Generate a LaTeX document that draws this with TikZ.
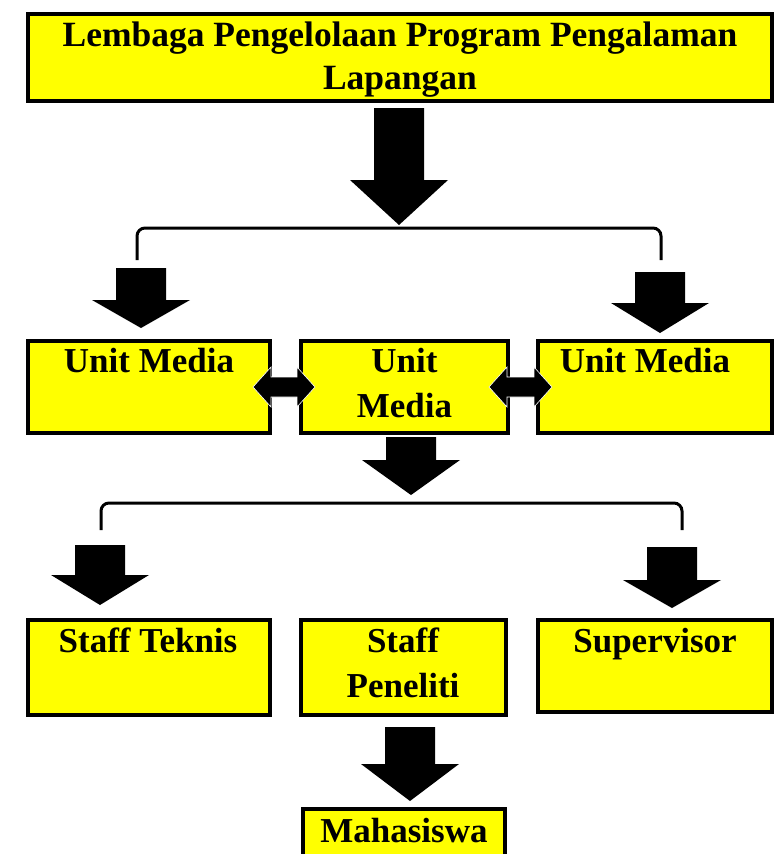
\documentclass[tikz,border=0pt]{standalone}
\usepackage{fontspec}
\setmainfont{Liberation Serif}
\definecolor{boxyellow}{RGB}{255,255,0}
\tikzset{
  unitbox/.style={draw=black, fill=boxyellow, line width=4pt, inner sep=0pt},
  unittext/.style={font=\fontsize{35}{45}\selectfont\bfseries, align=center, inner sep=0pt},
  bracket/.style={line width=3pt, rounded corners=8pt},
}
% block arrow pointing down: centre x, top, neck, tip
\newcommand{\downblock}[4]{%
  \fill (#1-25,#2) -- (#1+25,#2) -- (#1+25,#3) -- (#1+49,#3) -- (#1,#4)
        -- (#1-49,#3) -- (#1-25,#3) -- cycle;}
% block arrow with two heads: left x, right x, middle y
\newcommand{\bothblock}[3]{%
  \filldraw[draw=white, line width=0.6pt] (#1,#3) -- (#1+18,#3-20) -- (#1+18,#3-10)
        -- (#2-18,#3-10) -- (#2-18,#3-20) -- (#2,#3) -- (#2-18,#3+20)
        -- (#2-18,#3+10) -- (#1+18,#3+10) -- (#1+18,#3+20) -- cycle;}
\begin{document}
\begin{tikzpicture}[x=1pt, y=-1pt]
  \useasboundingbox (0,0) rectangle (776,854);
  % top
  \node[unitbox, minimum width=744pt, minimum height=87pt] (lppl) at (400,57.5) {};
  \node[unittext, font=\fontsize{35.5}{43}\selectfont\bfseries] (lppltxt) at (400,60) {Lembaga Pengelolaan Program Pengalaman\\Lapangan};
  \downblock{399}{108}{180}{225}
  % first bracket
  \coordinate (b1l) at (137,260);
  \coordinate (b1r) at (661,260);
  \draw[bracket] (b1l) -- (137,228) -- (661,228) -- (b1r);
  \downblock{141}{268}{300}{328}
  \downblock{660}{272}{303}{333}
  % middle row
  \node[unitbox, minimum width=242pt, minimum height=92pt] (umleft) at (149,387) {};
  \node[unitbox, minimum width=207pt, minimum height=92pt] (ummid) at (404.5,387) {};
  \node[unitbox, minimum width=234pt, minimum height=92pt] (umright) at (655,387) {};
  \node[unittext, anchor=north] (umlefttxt) at (149,348) {Unit Media};
  \node[unittext, anchor=north] (ummidtxt) at (404.5,348) {Unit\\Media};
  \node[unittext, anchor=north] (umrighttxt) at (645,348) {Unit Media};
  \bothblock{253}{315}{387}
  \bothblock{489}{552}{387}
  \downblock{411}{437}{460}{495}
  % second bracket
  \coordinate (b2l) at (101,530);
  \coordinate (b2r) at (682,530);
  \draw[bracket] (b2l) -- (101,503) -- (682,503) -- (b2r);
  \downblock{100}{545}{575}{605}
  \downblock{672}{547}{580}{608}
  % bottom row
  \node[unitbox, minimum width=242pt, minimum height=95pt] (teknis) at (149,667.5) {};
  \node[unitbox, minimum width=205pt, minimum height=95pt] (peneliti) at (403.5,667.5) {};
  \node[unitbox, minimum width=234pt, minimum height=92pt] (superv) at (655,666) {};
  \node[unittext, anchor=north] (teknistxt) at (148,628) {Staff Teknis};
  \node[unittext, anchor=north] (penelititxt) at (403,628) {Staff\\Peneliti};
  \node[unittext, anchor=north] (supervtxt) at (655,628) {Supervisor};
  \downblock{410}{727}{764}{801}
  \node[unitbox, minimum width=202pt, minimum height=60pt] (mhs) at (404,839) {};
  \node[unittext] (mhstxt) at (404,831) {Mahasiswa};
\end{tikzpicture}
\end{document}
